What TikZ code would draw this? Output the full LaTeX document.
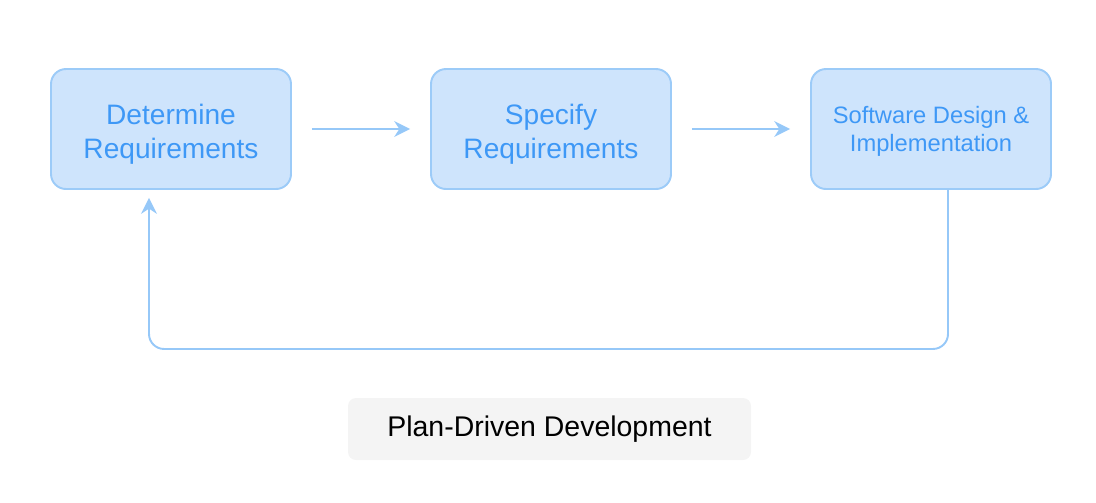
\documentclass[tikz,border=0pt]{standalone}
\usepackage{fontspec}
\setmainfont{Liberation Sans}
\usetikzlibrary{arrows.meta}

\definecolor{stepfill}{RGB}{206,228,252}
\definecolor{stepline}{RGB}{156,203,248}
\definecolor{steptext}{RGB}{62,152,246}
\definecolor{flowline}{RGB}{150,200,248}
\definecolor{captionfill}{RGB}{244,244,244}

\tikzset{
    stepbox/.style={draw=stepline, line width=1.1pt, fill=stepfill, rounded corners=0.3cm,
        minimum width=4.8cm, minimum height=2.4cm},
    steplabel/.style={align=center, text=steptext, font=\fontsize{16}{19.5}\selectfont},
    flow/.style={draw=flowline, line width=1.1pt, -{Stealth[length=9pt, width=9pt]}}
}

\begin{document}
\begin{tikzpicture}
    % Rahmen des Bildes
    \useasboundingbox (0,0) rectangle (21.92,-10.04);

    % Die drei Schritte
    \node[stepbox] (determine) at (3.42,-2.58) {};
    \node[steplabel] at ([yshift=-0.1cm]determine.center) {Determine\\Requirements};

    \node[stepbox] (specify) at (11.02,-2.58) {};
    \node[steplabel] at ([yshift=-0.1cm]specify.center) {Specify\\Requirements};

    \node[stepbox] (design) at (18.62,-2.58) {};
    \node[steplabel, font=\fontsize{13.5}{16}\selectfont] at ([yshift=-0.05cm]design.center)
        {Software Design \&\\Implementation};

    % Pfeile zwischen den Schritten
    \draw[flow] ([xshift=0.4cm]determine.east) -- ([xshift=-0.4cm]specify.west);
    \draw[flow] ([xshift=0.4cm]specify.east) -- ([xshift=-0.4cm]design.west);

    % Rückführung zum ersten Schritt
    \coordinate (loopR) at ([xshift=0.34cm, yshift=-3.18cm]design.south);
    \coordinate (loopL) at ([xshift=-0.44cm, yshift=-3.18cm]determine.south);
    \draw[flow, rounded corners=0.3cm] ([xshift=0.34cm]design.south) -- (loopR)
        -- (loopL) -- ([xshift=-0.44cm, yshift=-0.16cm]determine.south);

    % Bildunterschrift
    \node[fill=captionfill, rounded corners=0.16cm, minimum width=8.06cm, minimum height=1.24cm,
        font=\fontsize{16.2}{19}\selectfont] (caption) at (10.99,-8.58) {Plan-Driven Development};
\end{tikzpicture}
\end{document}
